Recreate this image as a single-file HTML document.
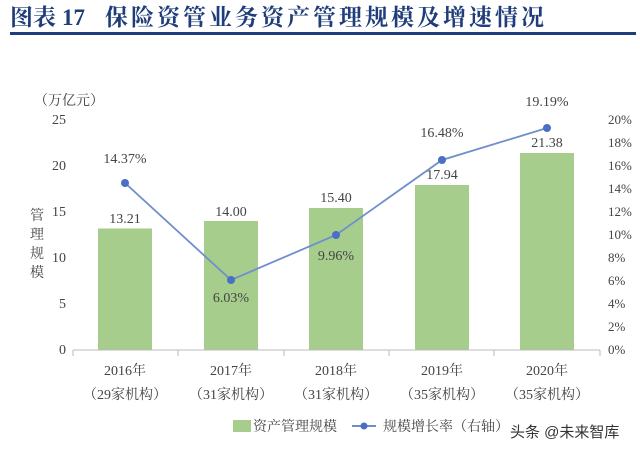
<!DOCTYPE html>
<html><head><meta charset="utf-8"><style>
body{margin:0;background:#fff;width:640px;height:452px;overflow:hidden}
text{font-family:"Liberation Serif","Noto Serif CJK SC",serif;fill:#444}
</style></head><body>
<svg width="640" height="452" xmlns="http://www.w3.org/2000/svg">
<g style="font-weight:bold" font-size="23">
<text x="10" y="25" style="fill:#1f3d7a">图表</text>
<text x="62" y="25" style="fill:#1f3d7a">17</text>
<text x="105" y="25" style="fill:#1f3d7a;letter-spacing:3px">保险资管业务资产管理规模及增速情况</text>
</g>
<rect x="10" y="32" width="626" height="3" fill="#1f3d7a"/>
<text x="34" y="105" font-size="14">（万亿元）</text>
<g font-size="14" text-anchor="end">
<text x="66" y="124">25</text><text x="66" y="170">20</text><text x="66" y="216">15</text>
<text x="66" y="262">10</text><text x="66" y="308">5</text><text x="66" y="354">0</text>
</g>
<g font-size="13" text-anchor="start">
<text x="608" y="124">20%</text><text x="608" y="147">18%</text><text x="608" y="170">16%</text>
<text x="608" y="193">14%</text><text x="608" y="216">12%</text><text x="608" y="239">10%</text>
<text x="608" y="262">8%</text><text x="608" y="285">6%</text><text x="608" y="308">4%</text>
<text x="608" y="331">2%</text><text x="608" y="354">0%</text>
</g>
<g font-size="14" text-anchor="middle">
<text x="37" y="220">管</text><text x="37" y="239">理</text><text x="37" y="258">规</text><text x="37" y="277">模</text>
</g>
<g fill="#a6cd8c">
<rect x="98" y="228.5" width="54" height="121.5"/>
<rect x="204" y="221" width="54" height="129"/>
<rect x="309" y="208" width="54" height="142"/>
<rect x="415" y="185" width="54" height="165"/>
<rect x="520" y="153" width="54" height="197"/>
</g>
<line x1="73" y1="350" x2="600" y2="350" stroke="#bbb"/>
<g stroke="#bbb"><line x1="73" y1="350" x2="73" y2="356"/><line x1="178" y1="350" x2="178" y2="356"/><line x1="284" y1="350" x2="284" y2="356"/><line x1="389" y1="350" x2="389" y2="356"/><line x1="494" y1="350" x2="494" y2="356"/><line x1="600" y1="350" x2="600" y2="356"/></g>
<g font-size="14" text-anchor="middle">
<text x="125" y="223">13.21</text><text x="231" y="216">14.00</text><text x="336" y="202">15.40</text>
<text x="442" y="179">17.94</text><text x="547" y="147">21.38</text>
<text x="125" y="163">14.37%</text><text x="231" y="302">6.03%</text><text x="336" y="260">9.96%</text>
<text x="442" y="137">16.48%</text><text x="547" y="106">19.19%</text>
</g>
<polyline points="125,183 231,280 336,235 442,160 547,128" fill="none" stroke="#6f8fcc" stroke-width="1.8"/>
<g fill="#4a6fc4"><circle cx="125" cy="183" r="4"/><circle cx="231" cy="280" r="4"/><circle cx="336" cy="235" r="4"/><circle cx="442" cy="160" r="4"/><circle cx="547" cy="128" r="4"/></g>
<g font-size="14" text-anchor="middle">
<text x="125" y="375">2016年</text><text x="231" y="375">2017年</text><text x="336" y="375">2018年</text><text x="442" y="375">2019年</text><text x="547" y="375">2020年</text>
<text x="125" y="399">（29家机构）</text><text x="231" y="399">（31家机构）</text><text x="336" y="399">（31家机构）</text><text x="442" y="399">（35家机构）</text><text x="547" y="399">（35家机构）</text>
</g>
<rect x="233" y="420" width="18" height="12" fill="#a6cd8c"/>
<text x="253" y="431" font-size="14">资产管理规模</text>
<line x1="352" y1="426" x2="376" y2="426" stroke="#6f8fcc" stroke-width="2"/>
<circle cx="364" cy="426" r="3.5" fill="#4a6fc4"/>
<text x="383" y="431" font-size="14">规模增长率（右轴）</text>
<text x="510" y="437" font-size="15" style="font-family:'Liberation Sans','Noto Sans CJK SC',sans-serif;fill:#333">头条 @未来智库</text>
</svg>
</body></html>
